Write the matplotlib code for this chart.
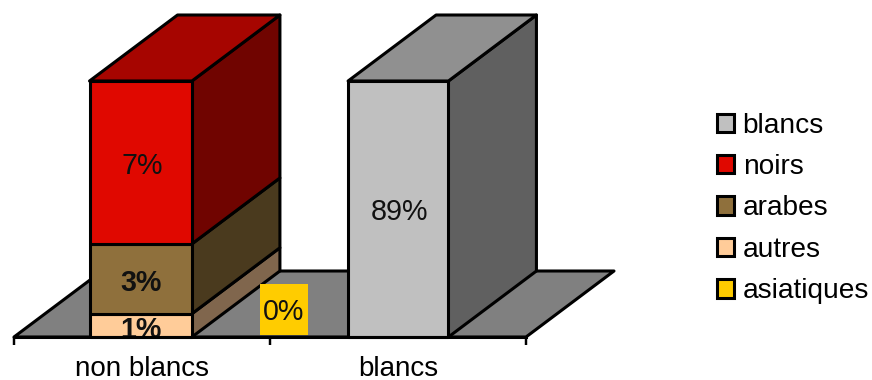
import matplotlib
matplotlib.use('Agg')
import matplotlib.pyplot as plt
from matplotlib.patches import Polygon, Rectangle, Patch

plt.rcParams['font.family'] = ['Liberation Sans', 'DejaVu Sans']

# Donnees
categories = ['non blancs', 'blancs']
series = ['asiatiques', 'autres', 'arabes', 'noirs', 'blancs']
asiatiques = [0, 0]
autres = [1, 0]
arabes = [3, 0]
noirs = [7, 0]
blancs = [0, 89]
valeurs = [asiatiques, autres, arabes, noirs, blancs]

# Couleurs : face avant, dessus, cote
couleurs = {
    'asiatiques': ('#FFCC00', '#A68500', '#806600'),
    'autres': ('#FFCC99', '#A68563', '#80664D'),
    'arabes': ('#8F703C', '#5D4927', '#4A3A1E'),
    'noirs': ('#E00800', '#A60500', '#700400'),
    'blancs': ('#C0C0C0', '#909090', '#606060'),
}

W, H = 872, 380
LW = 2.2
bords_g = [0.295, 1.305]
bords_d = [0.695, 1.697]
prof_x = 88 / 256   # profondeur de la perspective
prof_y = 66 / 256


def face(ax, pts, color, z):
    ax.add_patch(Polygon(pts, closed=True, facecolor=color, edgecolor='black',
                         linewidth=LW, joinstyle='round', clip_on=False, zorder=z))


fig = plt.figure(figsize=(W / 100, H / 100), dpi=100)
ax = fig.add_axes([14 / W, 1 - 337 / H, 512 / W, 256 / H])
ax.set_xlim(0, 2)
ax.set_ylim(0, 1)
ax.patch.set_visible(False)

# Plancher
face(ax, [(0, 0), (prof_x, prof_y), (2 + prof_x, prof_y), (2, 0)], '#808080', 1)

# Barres empilees a 100 %
z = 2
for i, cat in enumerate(categories):
    total = sum(v[i] for v in valeurs)
    x0, x1 = bords_g[i], bords_d[i]
    bas = 0
    for nom, v in zip(series, valeurs):
        if v[i] == 0:
            continue
        haut = bas + v[i] / total
        avant, dessus, cote = couleurs[nom]
        face(ax, [(x1, bas), (x1 + prof_x, bas + prof_y), (x1 + prof_x, haut + prof_y), (x1, haut)], cote, z)
        face(ax, [(x0, bas), (x1, bas), (x1, haut), (x0, haut)], avant, z + 1)
        if haut >= 0.999:
            face(ax, [(x0, haut), (x1, haut), (x1 + prof_x, haut + prof_y), (x0 + prof_x, haut + prof_y)], dessus, z)
        gras = nom in ('autres', 'arabes')
        # le texte du 1% est coupe par l'axe, d'ou clip_on
        ax.annotate(f'{v[i]}%', ((x0 + x1) / 2, (bas + haut) / 2),
                    xytext=(0.4 if gras else 0.8, -3.2 if gras else -2.4),
                    textcoords='offset points', ha='center', va='center', fontsize=20.6,
                    fontweight='bold' if gras else 'normal', color='#111111',
                    zorder=z + 2, clip_on=True)
        bas = haut
        z += 3

# Etiquette de la serie asiatiques (valeur nulle)
ax.add_patch(Rectangle((0.961, 0.008), 0.187, 0.199, facecolor=couleurs['asiatiques'][0],
                       edgecolor='none', zorder=z, clip_on=False))
ax.text(1.0545, 0.098, f'{asiatiques[0]}%', ha='center', va='center', fontsize=20.6,
        color='#111111', zorder=z + 1)

# Axe des categories
for s in ['top', 'left', 'right']:
    ax.spines[s].set_visible(False)
ax.spines['bottom'].set_linewidth(LW)
ax.spines['bottom'].set_zorder(z + 2)
ax.set_yticks([])
ax.set_xticks([0, 1, 2])
ax.set_xticklabels([])
ax.tick_params(axis='x', which='major', length=5.5, width=LW * 0.8, direction='out')
ax.set_xticks([0.5, 1.5], minor=True)
ax.set_xticklabels(categories, minor=True, fontsize=20)
ax.tick_params(axis='x', which='minor', length=0, pad=13.5)

# Legende
poignees = [Patch(facecolor=couleurs[n][0], edgecolor='black', linewidth=LW, label=n)
            for n in reversed(series)]
fig.legend(handles=poignees, loc='upper left', bbox_to_anchor=(711 / W, 1 - 107 / H),
           frameon=False, fontsize=20.2, handlelength=0.63, handleheight=0.63,
           handletextpad=0.3, labelspacing=0.55, borderpad=0.2, borderaxespad=0)

fig.savefig('out.png', dpi=100, facecolor='white')
